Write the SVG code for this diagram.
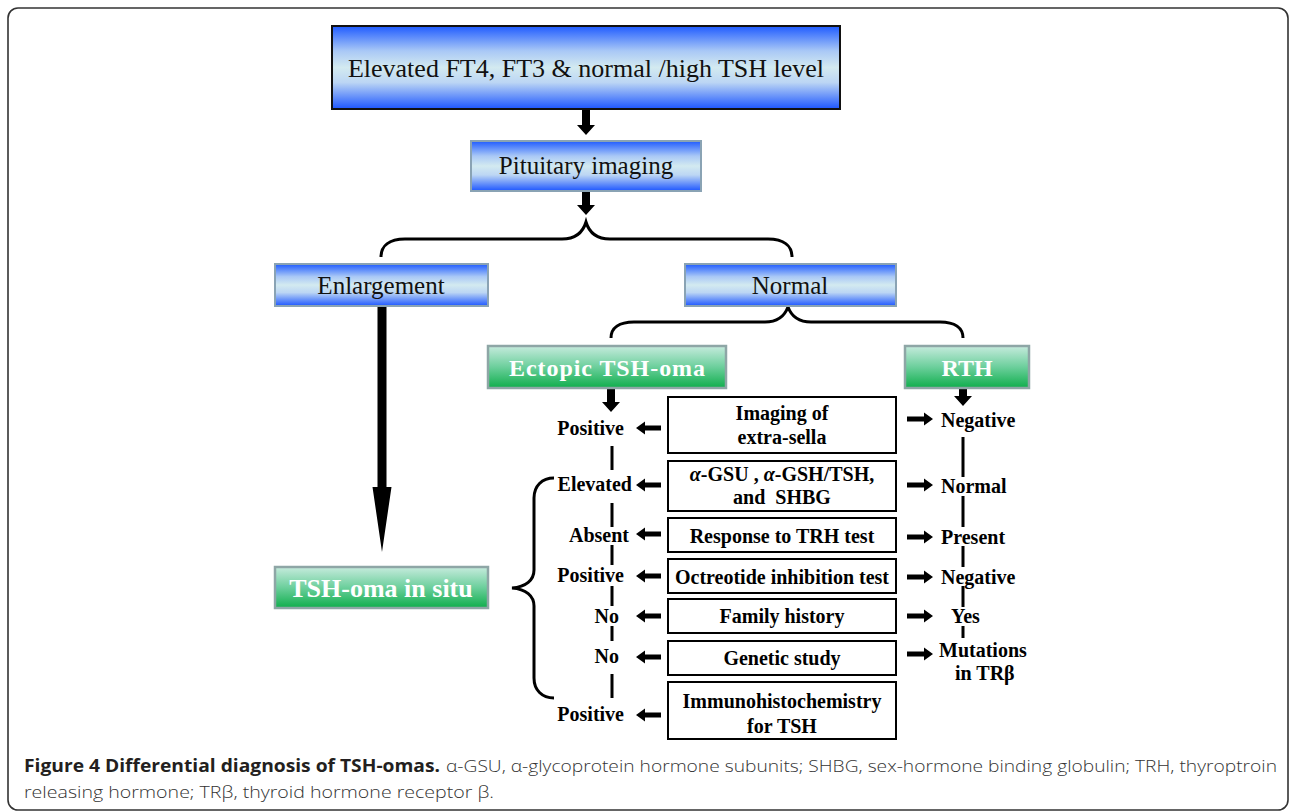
<svg xmlns="http://www.w3.org/2000/svg" width="1290" height="812" viewBox="0 0 1290 812">
<defs>
<linearGradient id="gb" x1="0" y1="0" x2="0" y2="1">
<stop offset="0" stop-color="#1f5bff"/>
<stop offset="0.3" stop-color="#a9c8f6"/>
<stop offset="0.5" stop-color="#d3eaf0"/>
<stop offset="0.68" stop-color="#bcd6f4"/>
<stop offset="1" stop-color="#1d56ff"/>
</linearGradient>
<linearGradient id="gg" x1="0" y1="0" x2="0" y2="1">
<stop offset="0" stop-color="#c6ebdd"/>
<stop offset="0.5" stop-color="#6ccf9c"/>
<stop offset="1" stop-color="#0fae4c"/>
</linearGradient>
<path id="la" d="M0,0 L9,-6.5 L9,-2.5 L25,-2.5 L25,2.5 L9,2.5 L9,6.5 Z"/>
<path id="ra" d="M0,0 L-9,-6.5 L-9,-2.5 L-26,-2.5 L-26,2.5 L-9,2.5 L-9,6.5 Z"/>
<path id="da" d="M0,0 L-9,-10 L-4,-10 L-4,-25 L4,-25 L4,-10 L9,-10 Z"/>
</defs>
<style>
.bb{fill:url(#gb);stroke:#8aa3b4;stroke-width:2}
.gb{fill:url(#gg);stroke:#8ea6a6;stroke-width:2.5}
.wb{fill:#fff;stroke:#000;stroke-width:2}
.t{font-family:"Liberation Serif","Times New Roman",serif;fill:#111;text-anchor:middle}
.tw{font-family:"Liberation Serif","Times New Roman",serif;fill:#fff;font-weight:bold;text-anchor:middle}
.m{font-family:"Liberation Serif","Times New Roman",serif;font-weight:bold;font-size:20px;fill:#000}
.mc{text-anchor:middle}
.me{text-anchor:end}
.br{fill:none;stroke:#000;stroke-width:3}
.vl{stroke:#000;stroke-width:3}
.cap{font-family:"Open Sans","Liberation Sans",sans-serif;font-size:17px}
</style>
<rect x="8" y="8" width="1280" height="802" rx="10" fill="#fff" stroke="#333" stroke-width="1.6"/>

<g id="connectors">
<path d="M582,109 L590,109 L590,125 L595,125 L586,135 L577,125 L582,125 Z"/>
<path d="M582,191 L590,191 L590,205 L595,205 L586,215 L577,205 L582,205 Z"/>
<path class="br" d="M381,257 C381,246 389,239 405,239 L562,239 C576,239 583,232 586,222 C589,232 596,239 610,239 L768,239 C784,239 792,246 792,257"/>
<path class="br" d="M611,338 C611,328 619,322 634,322 L765,322 C779,322 785,315 788,307 C791,315 797,322 811,322 L940,322 C955,322 963,328 963,338"/>
<path d="M377.5,306 L386.5,306 L386.5,487 L391.5,487 L382,552 L372.5,487 L377.5,487 Z"/>
<path class="br" stroke-width="2.6" d="M554,478 C542,478 534,486 534,498 L534,570 C534,580 526,587 512,588 C526,589 534,596 534,606 L534,678 C534,690 542,698 554,698"/>
<use href="#da" x="611" y="412"/>
<use href="#da" x="963" y="406"/>
<use href="#la" x="636" y="428"/>
<use href="#la" x="636" y="485"/>
<use href="#la" x="636" y="534"/>
<use href="#la" x="636" y="576"/>
<use href="#la" x="636" y="616"/>
<use href="#la" x="636" y="657"/>
<use href="#la" x="636" y="715"/>
<use href="#ra" x="933" y="419"/>
<use href="#ra" x="933" y="485"/>
<use href="#ra" x="933" y="537"/>
<use href="#ra" x="933" y="577"/>
<use href="#ra" x="933" y="616"/>
<use href="#ra" x="933" y="654"/>
<path class="vl" d="M612,446 V470 M612,503 V527 M612,545 V565 M612,586 V606 M612,626 V641 M612,674 V698"/>
<path class="vl" d="M963,437 V477 M963,496 V527 M963,546 V567 M963,586 V607 M963,626 V638"/>
</g>

<g id="n-top">
<rect x="332" y="26" width="508" height="83" class="bb" style="stroke:#111"/>
<text x="586" y="77" class="t" font-size="26">Elevated FT4, FT3 &amp; normal /high TSH level</text>
</g>
<g id="n-pituitary">
<rect x="471" y="141" width="230" height="50" class="bb"/>
<text x="586" y="174" class="t" font-size="25">Pituitary imaging</text>
</g>
<g id="n-enlargement">
<rect x="275" y="264" width="213" height="42" class="bb"/>
<text x="381" y="294" class="t" font-size="25">Enlargement</text>
</g>
<g id="n-normal">
<rect x="685" y="264" width="211" height="42" class="bb"/>
<text x="790" y="294" class="t" font-size="25">Normal</text>
</g>
<g id="n-ectopic">
<rect x="488" y="346" width="238" height="42" class="gb"/>
<text x="607" y="376" class="tw" font-size="24" textLength="196">Ectopic TSH-oma</text>
</g>
<g id="n-rth">
<rect x="905" y="346" width="124" height="42" class="gb"/>
<text x="967" y="376" class="tw" font-size="24">RTH</text>
</g>
<g id="n-insitu">
<rect x="275" y="567" width="213" height="41" class="gb"/>
<text x="381" y="597" class="tw" font-size="26">TSH-oma in situ</text>
</g>

<g id="n-imaging">
<rect x="668" y="397" width="228" height="56" class="wb"/>
<text x="782" y="420" class="m mc">Imaging of</text>
<text x="782" y="444" class="m mc">extra-sella</text>
</g>
<g id="n-gsu">
<rect x="668" y="461" width="228" height="50" class="wb"/>
<text x="782" y="481" class="m mc"><tspan font-style="italic">α</tspan>-GSU , <tspan font-style="italic">α</tspan>-GSH/TSH,</text>
<text x="782" y="504" class="m mc" xml:space="preserve">and  SHBG</text>
</g>
<g id="n-trh">
<rect x="668" y="518" width="228" height="34" class="wb"/>
<text x="782" y="543" class="m mc">Response to TRH test</text>
</g>
<g id="n-octreotide">
<rect x="668" y="559" width="228" height="34" class="wb"/>
<text x="782" y="584" class="m mc">Octreotide inhibition test</text>
</g>
<g id="n-family">
<rect x="668" y="599" width="228" height="34" class="wb"/>
<text x="782" y="623" class="m mc">Family history</text>
</g>
<g id="n-genetic">
<rect x="668" y="641" width="228" height="34" class="wb"/>
<text x="782" y="665" class="m mc">Genetic study</text>
</g>
<g id="n-ihc">
<rect x="668" y="682" width="228" height="57" class="wb"/>
<text x="782" y="708" class="m mc">Immunohistochemistry</text>
<text x="782" y="733" class="m mc">for TSH</text>
</g>

<g id="left-labels">
<text x="624" y="435" class="m me">Positive</text>
<text x="632" y="491" class="m me">Elevated</text>
<text x="629" y="542" class="m me">Absent</text>
<text x="624" y="582" class="m me">Positive</text>
<text x="619" y="623" class="m me">No</text>
<text x="619" y="663" class="m me">No</text>
<text x="624" y="721" class="m me">Positive</text>
</g>
<g id="right-labels">
<text x="941" y="427" class="m">Negative</text>
<text x="941" y="493" class="m">Normal</text>
<text x="941" y="544" class="m">Present</text>
<text x="941" y="584" class="m">Negative</text>
<text x="951" y="623" class="m">Yes</text>
<text x="939" y="657" class="m">Mutations</text>
<text x="955" y="680" class="m">in TRβ</text>
</g>

<g id="caption">
<text x="24" y="772" class="cap" font-weight="bold" fill="#231f20" textLength="416" lengthAdjust="spacingAndGlyphs">Figure 4 Differential diagnosis of TSH-omas.</text>
<text x="446" y="772" class="cap" font-weight="300" fill="#333" textLength="831" lengthAdjust="spacingAndGlyphs">α-GSU, α-glycoprotein hormone subunits; SHBG, sex-hormone binding globulin; TRH, thyroptroin</text>
<text x="24" y="798" class="cap" font-weight="300" fill="#333" textLength="470" lengthAdjust="spacingAndGlyphs">releasing hormone; TRβ, thyroid hormone receptor β.</text>
</g>
</svg>
